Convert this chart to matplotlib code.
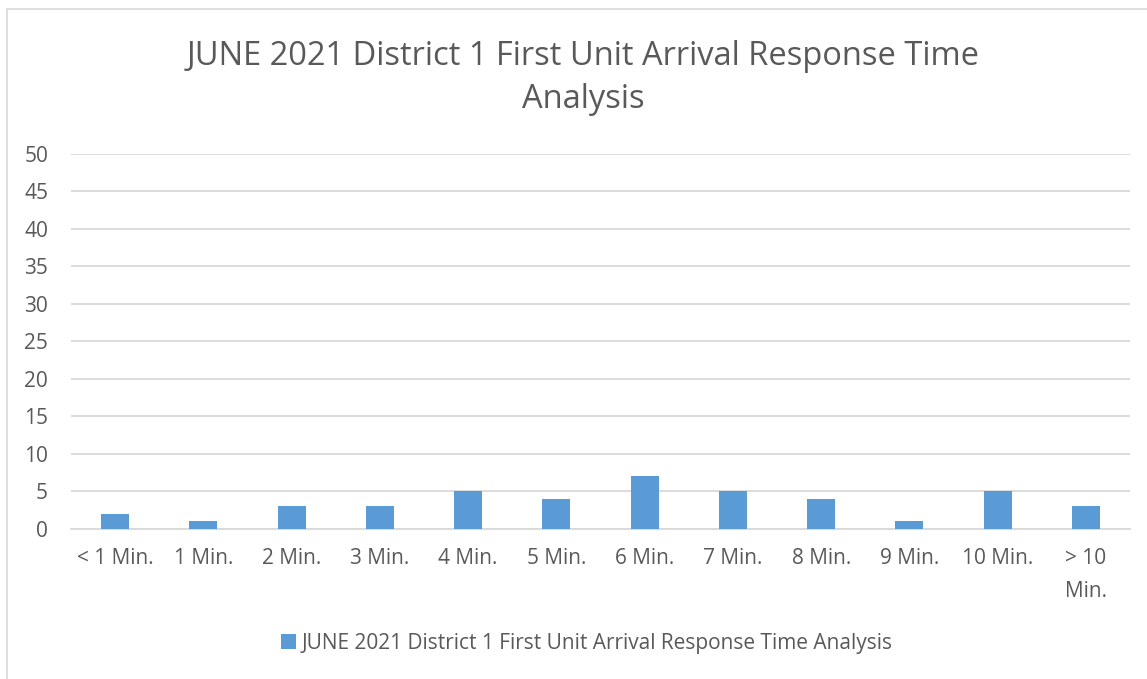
import matplotlib
matplotlib.use("Agg")
import matplotlib.pyplot as plt
from matplotlib.patches import Rectangle

categories = ["< 1 Min.", "1 Min.", "2 Min.", "3 Min.", "4 Min.", "5 Min.", "6 Min.",
              "7 Min.", "8 Min.", "9 Min.", "10 Min.", "> 10\nMin."]
values = [2, 1, 3, 3, 5, 4, 7, 5, 4, 1, 5, 3]
series_name = "JUNE 2021 District 1 First Unit Arrival Response Time Analysis"
title = "JUNE 2021 District 1 First Unit Arrival Response Time\nAnalysis"
yticks = list(range(0, 51, 5))

plt.rcParams['font.family'] = ['Open Sans', 'DejaVu Sans']
txt = '#595959'
bar_color = '#5b9bd5'
grid_color = '#d9d9d9'

fig = plt.figure(figsize=(11.47, 6.79), dpi=100)
fig.patches.append(Rectangle((7/1147, -0.1), 1.2, 1 - 9/679 + 0.1, transform=fig.transFigure,
                             fill=False, edgecolor='#d9d9d9', linewidth=1.2))
ax = fig.add_axes([71/1147, 1 - 529/679, (1130 - 71)/1147, (529 - 153.5)/679])

x = list(range(len(categories)))
ax.bar(x, values, width=0.32, color=bar_color, label=series_name, zorder=3)
ax.set_xlim(-0.5, len(categories) - 0.5)
ax.set_ylim(0, 50)
ax.set_yticks(yticks)
ax.set_yticklabels([str(v) for v in yticks])
ax.set_xticks(x)
ax.set_xticklabels(categories, va='top', linespacing=1.7)
ax.yaxis.grid(True, color=grid_color, linewidth=1.3, zorder=0)
for s in ['top', 'right', 'left']:
    ax.spines[s].set_visible(False)
ax.spines['bottom'].set_color(grid_color)
ax.spines['bottom'].set_linewidth(1.3)
ax.tick_params(axis='both', length=0, colors=txt, labelsize=15)
ax.tick_params(axis='x', pad=14)
ax.tick_params(axis='y', pad=16.5)

fig.text(583/1147, 1 - 78/679, title, ha='center', va='center', fontsize=23.5,
         color=txt, linespacing=1.4)

leg = fig.legend(loc='center', bbox_to_anchor=(587/1147, 1 - 643/679), frameon=False,
                 fontsize=15, handlelength=0.7, handleheight=0.7, handletextpad=0.3)
for t in leg.get_texts():
    t.set_color(txt)

fig.savefig("out.png", dpi=100)
